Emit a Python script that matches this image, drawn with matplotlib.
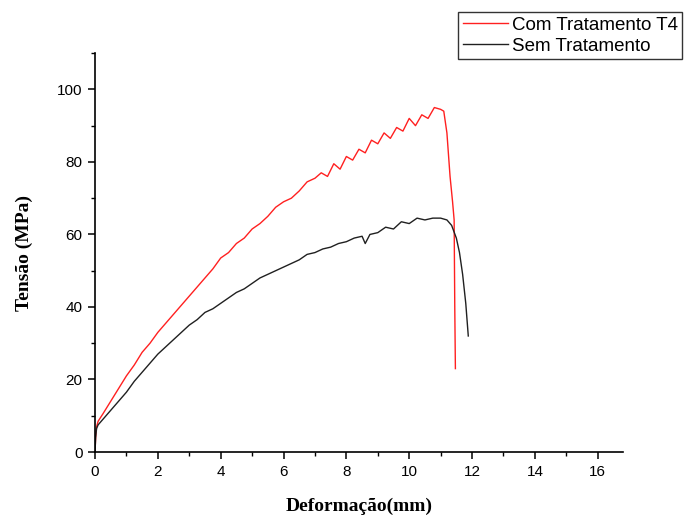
import matplotlib.pyplot as plt
from matplotlib.ticker import MultipleLocator

# Curva com tratamento T4 (deformação em mm, tensão em MPa)
def_t4 = [0.0, 0.02, 0.05, 0.1, 0.25, 0.5, 0.75, 1.0, 1.25, 1.5, 1.75, 2.0, 2.25, 2.5,
          2.75, 3.0, 3.25, 3.5, 3.75, 4.0, 4.25, 4.5, 4.75, 5.0, 5.25, 5.5, 5.75,
          6.0, 6.25, 6.5, 6.75, 7.0, 7.2, 7.4, 7.6, 7.8, 8.0, 8.2, 8.4, 8.6, 8.8,
          9.0, 9.2, 9.4, 9.6, 9.8, 10.0, 10.2, 10.4, 10.6, 10.8, 11.0, 11.1, 11.2,
          11.3, 11.38, 11.43, 11.45, 11.47]
ten_t4 = [0.0, 4.0, 7.0, 8.5, 10.5, 14.0, 17.5, 21.0, 24.0, 27.5, 30.0, 33.0, 35.5, 38.0,
          40.5, 43.0, 45.5, 48.0, 50.5, 53.5, 55.0, 57.5, 59.0, 61.5, 63.0, 65.0, 67.5,
          69.0, 70.0, 72.0, 74.5, 75.5, 77.0, 76.0, 79.5, 78.0, 81.5, 80.5, 83.5, 82.5,
          86.0, 85.0, 88.0, 86.5, 89.5, 88.5, 92.0, 90.0, 93.0, 92.0, 95.0, 94.5, 94.0,
          88.0, 76.0, 69.0, 64.0, 40.0, 23.0]

# Curva sem tratamento
def_st = [0.0, 0.02, 0.05, 0.1, 0.25, 0.5, 0.75, 1.0, 1.25, 1.5, 1.75, 2.0, 2.25, 2.5,
          2.75, 3.0, 3.25, 3.5, 3.75, 4.0, 4.25, 4.5, 4.75, 5.0, 5.25, 5.5, 5.75,
          6.0, 6.25, 6.5, 6.75, 7.0, 7.25, 7.5, 7.75, 8.0, 8.25, 8.5, 8.6, 8.75,
          9.0, 9.25, 9.5, 9.75, 10.0, 10.25, 10.5, 10.75, 11.0, 11.2, 11.35, 11.5,
          11.6, 11.7, 11.8, 11.88]
ten_st = [0.0, 4.0, 6.5, 7.5, 9.0, 11.5, 14.0, 16.5, 19.5, 22.0, 24.5, 27.0, 29.0, 31.0,
          33.0, 35.0, 36.5, 38.5, 39.5, 41.0, 42.5, 44.0, 45.0, 46.5, 48.0, 49.0, 50.0,
          51.0, 52.0, 53.0, 54.5, 55.0, 56.0, 56.5, 57.5, 58.0, 59.0, 59.5, 57.5, 60.0,
          60.5, 62.0, 61.5, 63.5, 63.0, 64.5, 64.0, 64.5, 64.5, 64.0, 62.5, 59.0,
          55.0, 49.0, 41.0, 32.0]

fig = plt.figure(figsize=(6.9, 5.18), dpi=100)
ax = fig.add_axes([0.1377, 0.1274, 0.765, 0.770])

l1, = ax.plot(def_t4, ten_t4, color='#ff2020', lw=1.0)
l2, = ax.plot(def_st, ten_st, color='#202020', lw=1.0)

ax.set_xlim(0, 16.8)
ax.set_ylim(0, 110)
ax.xaxis.set_major_locator(MultipleLocator(2))
ax.xaxis.set_minor_locator(MultipleLocator(1))
ax.yaxis.set_major_locator(MultipleLocator(20))
ax.yaxis.set_minor_locator(MultipleLocator(10))

for s in ['top', 'right']:
    ax.spines[s].set_visible(False)
for s in ['left', 'bottom']:
    ax.spines[s].set_linewidth(1.2)

ax.tick_params(which='major', direction='out', length=5, width=1.1,
               labelsize=11, pad=4)
ax.tick_params(which='minor', direction='out', length=3, width=1.0)
for lab in ax.get_xticklabels() + ax.get_yticklabels():
    lab.set_family('Liberation Sans')

ax.set_xlabel('Deformação(mm)', family='Liberation Serif', fontweight='bold',
              fontsize=14, labelpad=14)
ax.set_ylabel('Tensão (MPa)', family='Liberation Serif', fontweight='bold',
              fontsize=14, labelpad=17)

leg = fig.legend([l1, l2], ['Com Tratamento T4', 'Sem Tratamento'],
                 loc='upper left', bbox_to_anchor=(0.664, 0.977),
                 prop={'family': 'Liberation Sans', 'size': 13.5},
                 fancybox=False, framealpha=1, edgecolor='#333333',
                 handlelength=2.4, handletextpad=0.2, borderpad=0.25,
                 labelspacing=0.2, borderaxespad=0)
leg.get_frame().set_linewidth(1.0)

fig.savefig('out.png', dpi=100)
